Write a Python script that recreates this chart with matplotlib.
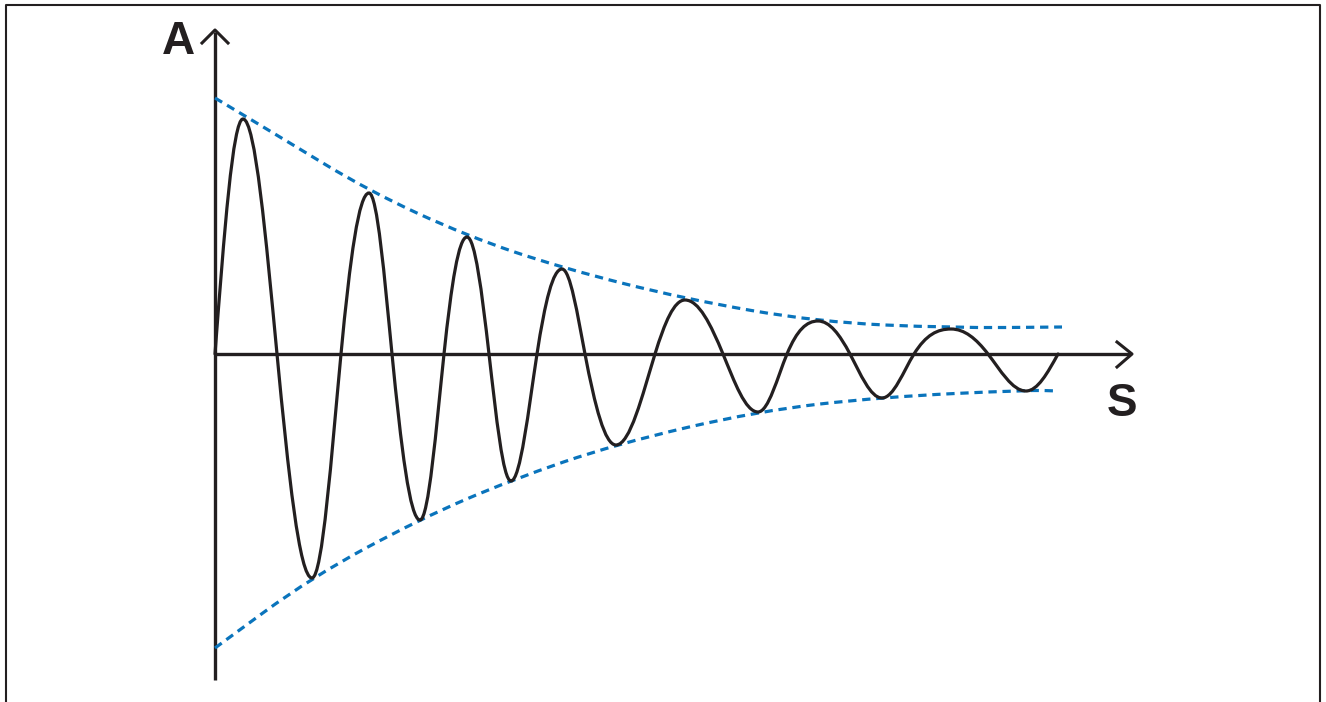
import numpy as np
import matplotlib
matplotlib.use("Agg")
import matplotlib.pyplot as plt
from matplotlib.path import Path
from matplotlib.patches import PathPatch

# data (s along the horizontal axis, A on the vertical, origin at the axes crossing)
zeros_s = [0, 62, 126, 177, 229, 274, 322, 370, 440, 508, 572, 635, 699, 773, 843]
peaks_s = [28, 97, 154, 205, 252, 296, 347, 401, 470, 543, 603, 667, 736, 811]
peaks_a = [235, -224, 161, -166, 117, -127, 85, -91, 54, -58, 33, -44, 25, -37]

env_up_s = [0, 65, 154, 252, 347, 470, 603, 737, 847]
env_up_a = [256, 217, 163, 118, 86, 55, 32, 26, 27]
env_lo_s = [0, 97, 205, 296, 401, 543, 667, 813, 843]
env_lo_a = [-294, -223, -165, -126, -90, -57, -43, -36, -37]

ink = "#231f20"
blue = "#0a74bc"

fig = plt.figure(figsize=(13.26, 7.02), dpi=100)
ax = fig.add_axes([0, 0, 1, 1])
ax.set_xlim(-215, 1111)
ax.set_ylim(-348, 354)
ax.axis("off")


def lobes(zs, xs, amps):
    n = len(xs)
    # slope of each quarter wave at its zero crossing, shared at each crossing
    left = [abs(amps[i]) * np.pi / 2 / (xs[i] - zs[i]) for i in range(n)]
    right = [abs(amps[i]) * np.pi / 2 / (zs[i + 1] - xs[i]) for i in range(n)]
    slope = [left[0]] + [(right[i] + left[i + 1]) / 2 for i in range(n - 1)] + [right[-1]]
    verts = [(zs[0], 0)]
    codes = [Path.MOVETO]
    for i in range(n):
        z0, z1, xe, a = zs[i], zs[i + 1], xs[i], amps[i]
        sg = np.sign(a)
        w0, w1 = xe - z0, z1 - xe
        verts += [(z0 + 0.326 * w0, sg * slope[i] * 0.326 * w0), (z0 + 0.638 * w0, a), (xe, a),
                  (xe + 0.362 * w1, a), (xe + 0.674 * w1, sg * slope[i + 1] * 0.326 * w1), (z1, 0)]
        codes += [Path.CURVE4] * 6
    return Path(verts, codes)


def smooth(xs, ys):
    p = list(zip(xs, ys))
    verts = [p[0], ((p[0][0] + p[1][0]) / 2, (p[0][1] + p[1][1]) / 2)]
    codes = [Path.MOVETO, Path.LINETO]
    for i in range(1, len(p) - 1):
        mid = ((p[i][0] + p[i + 1][0]) / 2, (p[i][1] + p[i + 1][1]) / 2)
        verts += [p[i], mid]
        codes += [Path.CURVE3, Path.CURVE3]
    verts.append(p[-1])
    codes.append(Path.LINETO)
    return Path(verts, codes)


# axes with open arrowheads
ax.plot([0, 0], [-326, 322], color=ink, lw=2.4, solid_capstyle="butt", zorder=2)
ax.plot([0, 915], [0, 0], color=ink, lw=2.4, solid_capstyle="butt", zorder=2)
ax.plot([-13, 0, 13], [311, 324, 311], color=ink, lw=2.2, zorder=2)
ax.plot([902, 917, 902], [12, 0, -13], color=ink, lw=2.2, zorder=2)

# envelopes
for xs, ys in [(env_up_s, env_up_a), (env_lo_s, env_lo_a)]:
    ax.add_patch(PathPatch(smooth(xs, ys), fill=False, edgecolor=blue, lw=2.3,
                           linestyle=(0, (2.6, 1.8)), zorder=3))

# damped oscillation
ax.add_patch(PathPatch(lobes(zeros_s, peaks_s, peaks_a), fill=False, edgecolor=ink,
                       lw=2.3, capstyle="round", zorder=4))

ax.text(-37, 312, "A", fontsize=33, fontweight="bold", family="Liberation Sans",
        color=ink, ha="center", va="center")
ax.text(907, -50, "S", fontsize=33, fontweight="bold", family="Liberation Sans",
        color=ink, ha="center", va="center")

# frame round the picture
ax.plot([6 / 1326, 6 / 1326, 1320 / 1326, 1320 / 1326], [0, 1 - 5 / 702, 1 - 5 / 702, 0],
        transform=ax.transAxes, color=ink, lw=1.5, clip_on=False)

fig.savefig("out.png", dpi=100)
